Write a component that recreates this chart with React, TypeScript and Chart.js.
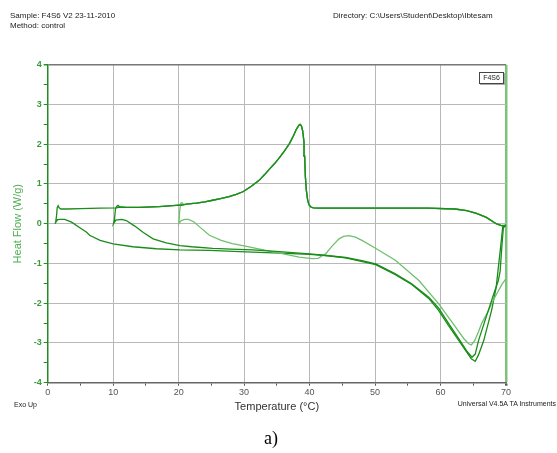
import React, { useEffect, useRef } from 'react';
import { Chart, registerables } from 'chart.js';

Chart.register(...registerables);

const FONT = '"Liberation Sans", Arial, Helvetica, sans-serif';

// Shared cooling segment, 70 °C down to ~20.8 °C (crystallization exotherm)
const coolTemp = [70, 69.3, 68.5, 67.0, 65.5, 64.0, 62.2, 58, 50, 41.5, 40.6, 40.2, 39.9, 39.7, 39.5, 39.35, 39.25, 39.15, 38.95, 38.75, 38.55, 38.35, 38.0, 37.5, 36.9, 36.2, 35.4, 34.6, 33.9, 33.1, 32.3, 31.1, 29.9, 28.8, 27.7, 26.4, 25.2, 24.0, 22.7, 21.5, 20.8];
const coolFlow = [-0.04, -0.05, 0.0, 0.16, 0.26, 0.33, 0.37, 0.39, 0.39, 0.39, 0.40, 0.42, 0.48, 0.60, 0.85, 1.2, 1.7, 2.05, 2.33, 2.46, 2.50, 2.47, 2.38, 2.2, 2.01, 1.84, 1.66, 1.5, 1.38, 1.23, 1.09, 0.94, 0.81, 0.74, 0.68, 0.63, 0.59, 0.55, 0.52, 0.50, 0.48];

// End of cooling at 20 °C
const coolEnd20Temp = [20.5, 20.3, 20.15, 20.05];
const coolEnd20Flow = [0.53, 0.51, 0.3, 0.02];

// Heating from 20 °C
const heat20Temp = [20.0, 20.4, 20.9, 21.5, 22.3, 23.2, 24.7, 26.5, 28.2, 30, 33.3, 36, 38.4, 40.4, 41.3, 42.5, 43.5, 44.5, 45.2, 46, 47, 48, 50, 53.1, 56.7, 59.7, 62.3, 63.6, 64.3, 64.7, 65.2, 65.8, 66.3, 67.3, 67.8, 68.8, 69.4, 70];
const heat20Flow = [0, 0.08, 0.11, 0.11, 0.05, -0.08, -0.29, -0.42, -0.50, -0.56, -0.67, -0.76, -0.84, -0.88, -0.87, -0.75, -0.55, -0.38, -0.32, -0.30, -0.34, -0.42, -0.61, -0.92, -1.43, -2.01, -2.6, -2.9, -3.02, -3.05, -2.95, -2.72, -2.5, -2.2, -2.0, -1.7, -1.52, -1.38];

// Cooling 20 °C -> 11 °C
const cool20to10Temp = [20.5, 19.6, 17, 14, 12, 11.0];
const cool20to10Flow = [0.47, 0.46, 0.43, 0.41, 0.41, 0.42];

// End of cooling at 10 °C
const coolEnd10Temp = [10.75, 10.55, 10.35, 10.2, 10.05];
const coolEnd10Flow = [0.46, 0.44, 0.38, 0.1, 0.0];

// Heating from 10 °C
const heat10Temp = [10.0, 10.4, 11.3, 12.0, 13.3, 14.6, 16.1, 18.1, 20.2, 22, 25.2, 28, 31.3, 35.4, 38.4, 40, 42.5, 45.5, 48, 50.1, 53.1, 55.6, 58.2, 59.7, 61.2, 62.8, 64.0, 64.8, 65.3, 65.8, 67.3, 68.3, 68.8, 69.1, 69.4, 69.6, 70];
const heat10Flow = [0, 0.09, 0.11, 0.08, -0.06, -0.22, -0.38, -0.48, -0.55, -0.58, -0.62, -0.64, -0.66, -0.70, -0.74, -0.76, -0.80, -0.85, -0.93, -1.01, -1.26, -1.51, -1.85, -2.12, -2.5, -2.9, -3.2, -3.36, -3.28, -2.94, -2.18, -1.68, -1.45, -1.2, -0.5, -0.1, -0.04];

// Cooling 10.5 °C -> 1 °C
const cool10to1Temp = [10.5, 8, 5, 3, 2.0, 1.75, 1.6, 1.45, 1.35, 1.2];
const cool10to1Flow = [0.40, 0.39, 0.38, 0.37, 0.37, 0.40, 0.45, 0.40, 0.2, 0.02];

// Heating from 1 °C
const heat1Temp = [1.1, 1.5, 2.0, 2.6, 3.65, 4.9, 5.9, 6.4, 8.0, 10, 13, 16.6, 20.2, 24.7, 29.3, 35.4, 40, 42.5, 45.5, 50.1, 53.1, 55.6, 58.2, 59.7, 61.2, 62.8, 64.0, 64.7, 65.3, 65.8, 66.6, 67.8, 68.5, 68.8, 69.2, 69.5, 70];
const heat1Flow = [0, 0.1, 0.11, 0.11, 0.04, -0.10, -0.21, -0.29, -0.42, -0.51, -0.58, -0.63, -0.66, -0.67, -0.70, -0.74, -0.77, -0.80, -0.86, -1.03, -1.28, -1.53, -1.88, -2.18, -2.56, -2.94, -3.23, -3.40, -3.46, -3.3, -2.94, -2.18, -1.6, -1.15, -0.55, -0.08, -0.04];

const DARK = '#1a8c1a';
const LIGHT = '#6fc06f';

const pts = (t: number[], f: number[]) => t.map((x, i) => ({ x, y: f[i] }));

export default function App() {
  const ref = useRef<HTMLCanvasElement | null>(null);

  useEffect(() => {
    const canvas = ref.current;
    if (!canvas) return;

    const run20 = [...pts(coolTemp, coolFlow), ...pts(coolEnd20Temp, coolEnd20Flow), ...pts(heat20Temp, heat20Flow)];
    const run10 = [...pts(coolTemp, coolFlow), ...pts(cool20to10Temp, cool20to10Flow), ...pts(coolEnd10Temp, coolEnd10Flow), ...pts(heat10Temp, heat10Flow)];
    const run1 = [...pts(coolTemp, coolFlow), ...pts(cool20to10Temp, cool20to10Flow), ...pts(cool10to1Temp, cool10to1Flow), ...pts(heat1Temp, heat1Flow)];

    const common = { showLine: true, pointRadius: 0, borderWidth: 1.3, tension: 0, fill: false };

    const chart = new Chart(canvas, {
      type: 'scatter',
      data: {
        datasets: [
          { ...common, label: 'F4S6 run 10', data: run10, borderColor: DARK },
          { ...common, label: 'F4S6 run 20', data: run20, borderColor: LIGHT },
          { ...common, label: 'F4S6 run 1', data: run1, borderColor: DARK },
        ],
      },
      options: {
        animation: false,
        responsive: false,
        devicePixelRatio: 1,
        layout: { padding: { left: 0, right: 51, top: 64.7, bottom: 39.1 } },
        plugins: { legend: { display: false }, tooltip: { enabled: false } },
        scales: {
          x: {
            type: 'linear',
            min: 0,
            max: 70,
            afterFit: (s: any) => { s.height = 31.2; },
            ticks: {
              stepSize: 5,
              maxTicksLimit: 100,
              autoSkip: false,
              maxRotation: 0,
              padding: 1,
              color: '#555',
              font: { family: FONT, size: 9 },
              callback: (v: any) => (Number(v) % 10 === 0 ? String(v) : ''),
            },
            grid: {
              color: (ctx: any) => {
                const v = ctx.tick?.value;
                if (v === 0) return 'rgba(0,0,0,0)';
                if (v === 70) return '#7cc47c';
                return v % 10 === 0 ? '#b8b8b8' : 'rgba(0,0,0,0)';
              },
              lineWidth: (ctx: any) => (ctx.tick?.value === 70 ? 2.5 : 1),
              tickLength: 3,
              tickColor: '#555',
            },
            border: { color: '#666', width: 1.5 },
            title: {
              display: true,
              text: 'Temperature (°C)',
              color: '#333',
              font: { family: FONT, size: 11 },
              padding: { top: 0, bottom: 0 },
            },
          },
          y: {
            type: 'linear',
            min: -4,
            max: 4,
            afterFit: (s: any) => { s.width = 47.7; },
            ticks: {
              stepSize: 0.5,
              maxTicksLimit: 100,
              autoSkip: false,
              padding: 2,
              color: '#3a9a3a',
              font: { family: FONT, size: 9, weight: 'bold' },
              callback: (v: any) => (Number(v) % 1 === 0 ? String(v) : ''),
            },
            grid: {
              color: (ctx: any) => {
                const v = ctx.tick?.value;
                if (v === 4) return '#777';
                if (v === -4) return 'rgba(0,0,0,0)';
                return v % 1 === 0 ? '#b8b8b8' : 'rgba(0,0,0,0)';
              },
              lineWidth: (ctx: any) => (ctx.tick?.value === 4 ? 1.5 : 1),
              tickLength: 4,
              tickColor: '#2a8a2a',
            },
            border: { color: '#228b22', width: 1.5 },
            title: {
              display: true,
              text: 'Heat Flow (W/g)',
              color: '#4caf50',
              font: { family: FONT, size: 11 },
              padding: { top: 11, bottom: 0 },
            },
          },
        },
      },
    } as any);

    return () => chart.destroy();
  }, []);

  const small: React.CSSProperties = { position: 'absolute', fontFamily: FONT, color: '#222', whiteSpace: 'nowrap' };

  return (
    <div style={{ position: 'absolute', left: 0, top: 0, width: 557, height: 453, background: '#fff', overflow: 'hidden' }}>
      <canvas ref={ref} width={557} height={453} style={{ display: 'block', width: 557, height: 453 }} />
      <div style={{ ...small, left: 10, top: 11, fontSize: 8, lineHeight: '10px' }}>
        <div>Sample: F4S6 V2 23-11-2010</div>
        <div>Method: control</div>
      </div>
      <div style={{ ...small, left: 333, top: 11, fontSize: 8, lineHeight: '10px' }}>Directory: C:\Users\Student\Desktop\Ibtesam</div>
      <div style={{ ...small, left: 479, top: 72, width: 23, height: 10, border: '1px solid #444', boxShadow: '1px 1px 0 #aaa', background: '#fff', fontSize: 7, lineHeight: '10px', textAlign: 'center' }}>F4S6</div>
      <div style={{ ...small, left: 14, top: 401, fontSize: 7, lineHeight: '8px' }}>Exo Up</div>
      <div style={{ ...small, right: 1, top: 400, fontSize: 7, lineHeight: '8px' }}>Universal V4.5A TA Instruments</div>
      <div style={{ ...small, left: 264, top: 428, fontSize: 18, lineHeight: '20px', fontFamily: '"Liberation Serif", "Times New Roman", serif', color: '#000' }}>a)</div>
    </div>
  );
}
